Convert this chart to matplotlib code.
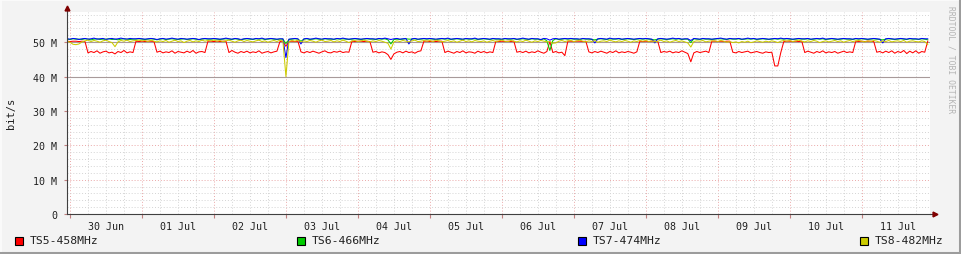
import numpy as np
import matplotlib
matplotlib.use("Agg")
import matplotlib.pyplot as plt
import matplotlib.dates as mdates
from matplotlib.ticker import MultipleLocator, FuncFormatter
from matplotlib.lines import Line2D
from matplotlib.patches import Rectangle

# hourly samples, Mbit/s, first sample 29 Jun 23:00 (one row per day)
ts5 = [
    50.3, 50.2, 50.3, 50.3, 50.2, 50.3, 50.2, 46.9, 47.3, 47.0, 47.5, 46.8, 47.2, 47.4, 46.9, 47.1, 46.6, 47.3, 47.0, 47.6, 46.9, 47.2, 47.0, 50.3,
    50.2, 50.3, 50.2, 50.3, 50.3, 50.2, 47.1, 47.4, 46.9, 47.2, 47.0, 47.5, 46.8, 47.3, 47.1, 46.9, 47.4, 47.0, 47.6, 46.8, 47.2, 47.3, 47.0, 50.3,
    50.3, 50.2, 50.3, 50.2, 50.3, 50.3, 47.0, 47.6, 47.1, 46.8, 47.3, 47.0, 47.4, 46.9, 47.2, 47.0, 47.5, 46.8, 47.1, 47.3, 46.9, 47.2, 47.4, 50.2,
    50.3, 48.8, 50.2, 50.3, 50.2, 50.3, 47.2, 46.9, 47.3, 47.0, 47.4, 47.1, 46.8, 47.2, 47.5, 47.0, 46.9, 47.3, 47.1, 47.4, 47.0, 47.2, 47.1, 50.3,
    50.2, 50.3, 50.3, 50.2, 50.3, 50.2, 47.1, 47.3, 46.9, 47.2, 47.0, 46.4, 45.0, 46.6, 47.1, 47.3, 46.9, 47.4, 47.0, 47.2, 46.8, 47.3, 47.5, 50.3,
    50.3, 50.2, 50.3, 50.2, 50.3, 50.3, 47.0, 47.4, 47.1, 46.8, 47.3, 47.0, 47.5, 46.9, 47.2, 47.1, 46.8, 47.4, 47.0, 47.3, 46.9, 47.2, 47.0, 50.3,
    50.2, 50.3, 50.2, 50.3, 50.2, 50.3, 47.1, 47.3, 47.0, 47.4, 46.9, 47.2, 47.0, 47.5, 47.1, 46.8, 47.3, 50.2, 47.0, 47.3, 46.9, 47.1, 46.1, 50.3,
    50.3, 50.2, 50.3, 50.3, 50.2, 50.3, 47.2, 46.9, 47.3, 47.0, 47.4, 47.1, 46.8, 47.3, 47.0, 47.5, 46.9, 47.2, 47.0, 47.3, 47.1, 46.8, 47.2, 50.3,
    50.2, 50.3, 50.2, 50.3, 50.3, 50.2, 47.0, 47.3, 47.1, 47.4, 46.9, 47.2, 47.0, 47.5, 47.1, 46.7, 44.3, 46.9, 47.3, 47.0, 47.2, 47.4, 47.0, 50.3,
    50.3, 50.2, 50.3, 50.2, 50.3, 50.3, 47.1, 46.9, 47.3, 47.0, 47.2, 47.4, 46.9, 47.1, 47.3, 47.0, 46.8, 47.2, 47.0, 47.1, 43.1, 43.1, 47.0, 50.2,
    50.3, 50.3, 50.2, 50.3, 50.2, 50.3, 47.0, 47.4, 47.1, 46.8, 47.3, 47.0, 47.5, 46.9, 47.2, 47.0, 47.3, 46.8, 47.1, 47.4, 47.0, 47.2, 47.0, 50.3,
    50.2, 50.3, 50.2, 50.3, 50.3, 50.2, 47.1, 47.3, 46.9, 47.4, 47.0, 47.5, 46.8, 47.3, 47.0, 47.6, 46.7, 47.4, 46.9, 47.5, 46.8, 47.3, 47.1, 50.3,
]

ts6 = [
    50.9, 50.8, 51.0, 50.9, 50.9, 50.8, 51.0, 50.9, 50.7, 50.9, 51.0, 50.8, 50.9, 50.9, 51.0, 50.8, 50.9, 50.7, 50.9, 51.0, 50.9, 50.8, 50.9, 50.9,
    51.0, 50.9, 50.8, 50.9, 51.0, 50.9, 50.7, 50.9, 51.0, 50.8, 50.9, 51.0, 50.9, 50.8, 50.9, 51.0, 50.8, 50.9, 51.0, 50.9, 50.7, 50.9, 51.0, 50.9,
    50.9, 51.0, 50.9, 50.8, 50.9, 51.0, 50.9, 50.8, 51.0, 50.9, 50.7, 50.9, 51.0, 50.9, 50.8, 51.0, 50.9, 51.0, 50.8, 50.9, 51.0, 50.9, 50.8, 50.9,
    50.9, 49.6, 50.8, 50.9, 51.0, 50.9, 50.3, 50.9, 51.0, 50.8, 50.9, 51.0, 50.9, 50.8, 51.0, 50.9, 50.9, 50.8, 51.0, 50.9, 51.0, 50.9, 50.8, 50.9,
    51.0, 50.9, 50.8, 50.9, 51.0, 50.9, 50.9, 50.8, 51.0, 50.9, 51.0, 50.7, 49.5, 50.8, 50.9, 50.8, 50.9, 51.0, 50.9, 50.9, 51.0, 50.8, 50.9, 51.0,
    50.9, 51.0, 50.9, 50.8, 50.9, 51.0, 50.9, 51.0, 50.8, 50.9, 51.0, 50.9, 50.8, 51.0, 50.9, 50.9, 51.0, 50.8, 50.9, 51.0, 50.9, 50.8, 51.0, 50.9,
    50.9, 50.8, 51.0, 50.9, 50.9, 51.0, 50.8, 50.9, 51.0, 50.9, 50.8, 51.0, 50.9, 50.9, 50.7, 51.0, 50.4, 47.6, 50.5, 51.0, 50.8, 50.9, 51.0, 50.9,
    51.0, 50.9, 50.9, 50.8, 51.0, 50.9, 50.9, 50.8, 50.7, 50.9, 51.0, 50.9, 50.8, 51.0, 50.9, 50.9, 51.0, 50.8, 50.9, 51.0, 50.9, 50.8, 50.9, 51.0,
    50.9, 51.0, 50.9, 50.8, 50.7, 50.9, 51.0, 50.9, 50.8, 50.9, 51.0, 50.9, 51.0, 50.8, 50.9, 50.9, 49.9, 51.0, 50.9, 50.8, 51.0, 50.9, 50.9, 50.8,
    50.9, 51.0, 51.0, 50.9, 50.8, 51.0, 50.9, 50.9, 51.0, 50.8, 50.9, 51.0, 50.9, 51.0, 50.8, 50.9, 51.0, 50.9, 50.8, 50.9, 51.0, 50.9, 51.0, 50.9,
    51.0, 50.9, 50.8, 50.9, 51.0, 50.9, 50.9, 51.0, 50.8, 50.9, 51.0, 50.9, 51.0, 50.8, 50.9, 51.0, 50.9, 50.8, 50.9, 51.0, 50.9, 50.9, 50.8, 51.0,
    50.9, 51.0, 50.9, 50.8, 50.9, 51.0, 50.9, 50.8, 50.7, 50.9, 51.0, 50.9, 50.8, 50.9, 51.0, 50.9, 50.8, 51.0, 50.9, 50.9, 50.8, 51.0, 50.9, 50.7,
]

ts7 = [
    51.0, 50.9, 51.1, 51.0, 50.8, 51.0, 51.1, 50.9, 51.0, 51.2, 50.9, 51.0, 51.1, 50.8, 51.0, 51.1, 50.9, 51.0, 51.2, 51.0, 50.9, 51.1, 51.0, 51.0,
    51.1, 51.0, 50.9, 51.0, 51.1, 51.0, 50.8, 51.0, 51.1, 50.9, 51.0, 51.2, 51.0, 50.9, 51.1, 51.0, 50.9, 51.0, 51.1, 51.0, 50.8, 51.0, 51.1, 51.0,
    51.0, 51.1, 51.0, 50.9, 51.0, 51.2, 51.0, 50.9, 51.1, 51.0, 50.8, 51.0, 51.1, 51.0, 50.9, 51.1, 51.0, 51.2, 50.9, 51.0, 51.1, 51.0, 50.9, 51.0,
    51.0, 45.5, 50.9, 51.0, 51.1, 51.0, 49.5, 51.0, 51.1, 50.9, 51.0, 51.2, 51.0, 50.9, 51.1, 51.0, 51.0, 50.9, 51.1, 51.0, 51.2, 51.0, 50.9, 51.0,
    51.1, 51.0, 50.9, 51.0, 51.1, 51.0, 51.0, 50.9, 51.1, 51.0, 51.2, 51.0, 50.8, 51.0, 51.1, 50.9, 51.0, 51.1, 49.5, 51.0, 51.1, 50.9, 51.0, 51.1,
    51.0, 51.1, 51.0, 50.9, 51.0, 51.1, 51.0, 51.2, 50.9, 51.0, 51.1, 51.0, 50.9, 51.1, 51.0, 51.0, 51.2, 50.9, 51.0, 51.1, 51.0, 50.9, 51.1, 51.0,
    51.0, 50.9, 51.1, 51.0, 51.0, 51.1, 50.9, 51.0, 51.2, 51.0, 50.9, 51.1, 51.0, 51.0, 50.8, 51.1, 51.0, 50.6, 51.0, 51.1, 50.9, 51.0, 51.1, 51.0,
    51.1, 51.0, 51.0, 50.9, 51.1, 51.0, 51.0, 50.9, 49.8, 51.0, 51.1, 51.0, 50.9, 51.2, 51.0, 51.0, 51.1, 50.9, 51.0, 51.1, 51.0, 50.9, 51.0, 51.1,
    51.0, 51.1, 51.0, 50.9, 49.8, 51.0, 51.1, 51.0, 50.9, 51.0, 51.2, 51.0, 51.1, 50.9, 51.0, 51.0, 50.5, 51.1, 51.0, 50.9, 51.1, 51.0, 51.0, 50.9,
    51.0, 51.1, 51.2, 51.0, 50.9, 51.1, 51.0, 51.0, 51.1, 50.9, 51.0, 51.2, 51.0, 51.1, 50.9, 51.0, 51.1, 51.0, 50.9, 51.0, 51.1, 51.0, 51.2, 51.0,
    51.1, 51.0, 50.9, 51.0, 51.1, 51.0, 51.0, 51.1, 50.9, 51.0, 51.1, 51.0, 51.2, 50.9, 51.0, 51.1, 51.0, 50.9, 51.0, 51.1, 51.0, 51.0, 50.9, 51.1,
    51.0, 51.1, 51.0, 50.9, 51.0, 51.1, 51.0, 50.9, 49.8, 51.0, 51.1, 51.0, 50.9, 51.0, 51.1, 51.0, 50.9, 51.1, 51.0, 51.0, 50.9, 51.1, 51.0, 51.0,
]

ts8 = [
    50.3, 50.0, 49.4, 49.3, 49.5, 50.1, 50.4, 50.6, 50.2, 50.5, 50.3, 50.0, 50.4, 50.6, 50.2, 49.9, 48.7, 50.1, 50.5, 50.3, 50.6, 50.2, 50.4, 50.5,
    50.6, 50.4, 50.5, 50.2, 50.6, 50.3, 50.1, 50.4, 50.2, 50.5, 50.0, 50.3, 50.6, 50.2, 50.4, 49.9, 50.3, 50.5, 50.1, 50.4, 50.2, 50.6, 50.3, 50.5,
    50.4, 50.6, 50.3, 50.5, 50.2, 50.4, 50.6, 50.3, 50.0, 50.4, 50.6, 50.2, 50.5, 50.3, 50.1, 50.4, 50.6, 50.2, 50.4, 50.0, 50.3, 50.5, 50.2, 50.6,
    50.3, 40.0, 50.2, 50.5, 50.3, 50.6, 50.1, 50.4, 50.2, 50.5, 50.3, 50.0, 50.4, 50.6, 50.2, 50.3, 50.5, 50.1, 50.4, 50.2, 50.6, 50.3, 49.9, 50.4,
    50.5, 50.2, 50.4, 50.6, 50.3, 50.1, 50.4, 50.2, 50.5, 50.3, 50.0, 49.7, 48.0, 50.1, 50.4, 50.2, 50.5, 50.3, 50.1, 50.4, 50.6, 50.2, 50.3, 50.5,
    50.3, 50.5, 50.2, 50.6, 50.4, 50.1, 50.3, 50.5, 50.2, 50.4, 50.0, 50.3, 50.6, 50.2, 50.4, 50.1, 50.5, 50.3, 50.2, 50.4, 50.0, 50.3, 50.5, 50.2,
    50.4, 50.6, 50.3, 50.2, 50.5, 50.3, 50.1, 50.4, 50.2, 50.6, 50.3, 50.0, 50.4, 50.2, 50.5, 50.3, 50.1, 50.2, 49.7, 49.8, 50.3, 50.5, 50.2, 50.4,
    50.5, 50.2, 50.4, 50.6, 50.3, 50.1, 50.4, 50.2, 50.5, 50.0, 50.3, 50.4, 50.2, 50.6, 50.3, 50.1, 50.4, 50.2, 50.5, 50.3, 50.0, 50.4, 50.2, 50.5,
    50.3, 50.5, 50.2, 50.4, 50.1, 50.3, 50.6, 50.2, 50.4, 50.0, 50.3, 50.5, 50.2, 50.4, 50.1, 49.8, 48.6, 50.2, 50.4, 50.3, 50.5, 50.1, 50.3, 50.4,
    50.4, 50.2, 50.5, 50.3, 50.0, 50.2, 49.9, 50.1, 49.8, 50.2, 50.0, 50.3, 49.9, 50.1, 50.4, 50.2, 50.0, 50.3, 50.1, 50.4, 50.2, 49.9, 50.3, 50.5,
    50.3, 50.5, 50.2, 50.4, 50.6, 50.3, 50.1, 50.4, 50.2, 50.5, 50.3, 49.9, 50.2, 50.4, 50.1, 50.3, 50.5, 50.2, 50.4, 50.0, 50.3, 50.5, 50.2, 50.4,
    50.5, 50.3, 50.1, 50.4, 50.2, 50.5, 50.3, 50.0, 50.4, 50.2, 50.5, 50.1, 50.3, 50.4, 50.2, 50.5, 50.0, 50.3, 50.4, 50.2, 50.1, 50.4, 50.2, 49.3,
]

labels = ["TS5-458MHz", "TS6-466MHz", "TS7-474MHz", "TS8-482MHz"]
colors = ["#ff0000", "#00cc00", "#0000ff", "#cccc00"]
series = [ts5, ts6, ts7, ts8]

start = np.datetime64("2024-06-29T23:00")
times = start + np.arange(len(ts5)) * np.timedelta64(1, "h")

W, H = 961, 255
plt.rcParams["font.family"] = ["DejaVu Sans Mono"]
fig = plt.figure(figsize=(W / 100, H / 100), dpi=100)
fig.patch.set_facecolor("#f3f3f3")
ax = fig.add_axes([67 / W, 40 / H, (930 - 67) / W, (215 - 13) / H])
ax.set_facecolor("white")

ax.set_xlim(np.datetime64("2024-06-29T23:00"), np.datetime64("2024-07-11T22:45"))
ax.set_ylim(0, 58.8)

# grid like rrdtool: minor grey dotted, major pink dotted
ax.xaxis.set_major_locator(mdates.DayLocator())
ax.xaxis.set_minor_locator(mdates.HourLocator(byhour=[0, 6, 12, 18]))
ax.xaxis.set_major_formatter(FuncFormatter(lambda v, p: ""))
ax.xaxis.set_minor_formatter(FuncFormatter(
    lambda v, p: mdates.num2date(v).strftime("%d %b") if mdates.num2date(v).hour == 12 else ""))
ax.yaxis.set_major_locator(MultipleLocator(10))
ax.yaxis.set_minor_locator(MultipleLocator(2))
ax.yaxis.set_major_formatter(FuncFormatter(lambda v, p: "0" if v == 0 else f"{v:.0f} M"))

ax.grid(which="minor", color="#d4d4d4", linestyle=(0, (1, 2)), linewidth=0.7)
ax.grid(which="major", color="#eaa8a8", linestyle=(0, (1, 2)), linewidth=0.7)
ax.set_axisbelow(True)

ax.tick_params(which="major", axis="x", length=3, color="#c08080", labelsize=7.2)
ax.tick_params(which="minor", axis="x", length=0, pad=5, labelsize=7.2, labelcolor="#202020")
ax.tick_params(which="major", axis="y", length=2, color="#c08080", pad=5, labelsize=7.2, labelcolor="#202020")
ax.tick_params(which="minor", axis="y", length=0)

for s in ["top", "right"]:
    ax.spines[s].set_visible(False)
for s in ["left", "bottom"]:
    ax.spines[s].set_color("#404040")
    ax.spines[s].set_linewidth(0.8)

ax.axhline(40, color="#a89a9a", linewidth=0.8, zorder=1.5)
ax.axhline(50, color="#a89a9a", linewidth=0.8, zorder=1.5)

for vals, c in zip(series, colors):
    ax.plot(times, vals, color=c, linewidth=0.75, zorder=2)

# axis arrows
ax.add_line(Line2D([0, 0], [1.0, 1.02], transform=ax.transAxes, color="#404040", lw=0.8, clip_on=False))
ax.plot([0], [1.02], marker="^", color="#800000", ms=3.5, transform=ax.transAxes, clip_on=False)
ax.add_line(Line2D([1.0, 1.005], [0, 0], transform=ax.transAxes, color="#404040", lw=0.8, clip_on=False))
ax.plot([1.006], [0], marker=">", color="#800000", ms=3.5, transform=ax.transAxes, clip_on=False)

fig.text(11 / W, 1 - 113 / H, "bit/s", rotation=90, ha="center", va="center", fontsize=7.5, color="#202020")
fig.text(951 / W, 1 - 60 / H, "RRDTOOL / TOBI OETIKER", rotation=270, ha="center", va="center",
         fontsize=5.8, color="#b4b4b4")

# legend
leg_x = [15, 297, 578, 860]
for x0, lab, c in zip(leg_x, labels, colors):
    fig.add_artist(Rectangle((x0 / W, 1 - 246 / H), 8 / W, 8 / H, facecolor=c,
                             edgecolor="black", linewidth=0.8, transform=fig.transFigure))
    fig.text((x0 + 15) / W, 1 - 241.5 / H, lab, ha="left", va="center", fontsize=8.2, color="#202020")

# 3d-ish frame
fig.add_artist(Line2D([0, 1], [1 - 0.5 / H, 1 - 0.5 / H], color="#fcfcfc", lw=1.2, transform=fig.transFigure))
fig.add_artist(Line2D([0.5 / W, 0.5 / W], [0, 1], color="#fcfcfc", lw=1.2, transform=fig.transFigure))
fig.add_artist(Line2D([1 - 1.5 / W, 1 - 1.5 / W], [0, 1], color="#9c9c9c", lw=2.2, transform=fig.transFigure))
fig.add_artist(Line2D([0, 1], [1.5 / H, 1.5 / H], color="#9c9c9c", lw=2.2, transform=fig.transFigure))

fig.savefig("out.png", dpi=100, facecolor=fig.get_facecolor())
